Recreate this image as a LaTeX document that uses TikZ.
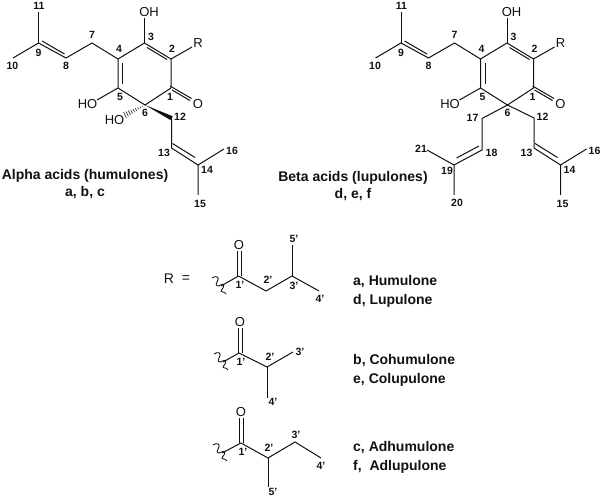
\documentclass[tikz,border=0pt]{standalone}
\usepackage{fontspec}
\setmainfont{Liberation Sans}
\usetikzlibrary{calc}
\definecolor{ink}{HTML}{111111}
\tikzset{
  bond/.style={draw=ink, line width=1pt},
  atomlabel/.style={inner sep=0pt, text=ink, font=\fontsize{13}{15}\selectfont},
  numlabel/.style={inner sep=0pt, text=ink, font=\fontsize{10.5}{12}\selectfont\bfseries},
  heading/.style={inner sep=0pt, text=ink, align=center, font=\fontsize{14}{17}\selectfont\bfseries},
  rowlabel/.style={inner sep=0pt, anchor=west, text=ink, font=\fontsize{14}{17}\selectfont\bfseries},
}
% ring and first prenyl, same in both acids
\newcommand{\acidcore}{%
  \coordinate (c1) at (171,88);
  \coordinate (c2) at (171,59);
  \coordinate (c3) at (144.5,43);
  \coordinate (c4) at (118,59);
  \coordinate (c5) at (118,88);
  \coordinate (c6) at (145,105);
  \coordinate (c7) at (92,43);
  \coordinate (c8) at (66,58);
  \coordinate (c9) at (38.5,43);
  \coordinate (c10) at (13,58);
  \coordinate (c11) at (38.5,12);
  \coordinate (oh3) at (144.5,18);
  \coordinate (oh5) at (97,100);
  \coordinate (rbond) at (192,47);
  \coordinate (c12) at (171.5,118);
  \coordinate (c13) at (171.5,148);
  \coordinate (c14) at (198,165);
  \coordinate (c15) at (198,195);
  \coordinate (c16) at (224,149);
  % ring
  \draw[bond] (c1) -- (c2) -- (c3) -- (c4) -- (c5) -- (c6) -- (c1);
  \draw[bond] (147,47.5) -- (167,59.5);
  \draw[bond] (122.5,63) -- (122.5,84.5);
  \draw[bond] (170,86) -- (191.5,98.5);
  \draw[bond] (172,90) -- (190,100.5);
  % prenyl on 4
  \draw[bond] (c4) -- (c7) -- (c8) -- (c9) -- (c10);
  \draw[bond] (c9) -- (c11);
  \draw[bond] (42,41) -- (64.5,54);
  % substituents
  \draw[bond] (c3) -- (oh3);
  \draw[bond] (c5) -- (oh5);
  \draw[bond] (c2) -- (rbond);
  % prenyl on 6
  \draw[bond] (c12) -- (c13) -- (c14) -- (c15);
  \draw[bond] (c14) -- (c16);
  \draw[bond] (172.5,143.5) -- (195,157.5);
  % atoms
  \node[atomlabel] (oh3l) at (149,12) {OH};
  \node[atomlabel] (rl) at (198,43) {R};
  \node[atomlabel] (ol) at (198,104) {O};
  \node[atomlabel] (oh5l) at (87.5,104) {HO};
  % numbers
  \foreach \lab/\px/\py in {1/170/97,2/172/49,3/151/37,4/119/49,5/120/97,6/145/113,
      7/92/35,8/66/66,9/38.5/53,10/12.5/66,11/39/6,13/164/153,14/207/170,15/200/204,16/232/151}
    \node[numlabel] (n\lab) at (\px,\py) {\lab};
}
% wavy cut mark, starts at top left
\newcommand{\wavytail}[1]{%
  \draw[ink, line width=.85pt, shift={#1}] (0,0) .. controls (4,-3) and (8.5,-1) .. (5,4)
     .. controls (2.5,8) and (6,9) .. (8.5,7) .. controls (13,4.5) and (12.5,9) .. (9.5,12)
     .. controls (7.5,15) and (12,12.5) .. (14,16);
}
\begin{document}
\begin{tikzpicture}[x=1pt,y=-1pt]
  \useasboundingbox (0,0) rectangle (600,497);

  % alpha acid
  \begin{scope}[name prefix=a-]
    \acidcore
    \fill[ink] (c6) -- (172.8,116.3) -- (170.4,120) -- cycle;
    \coordinate (hashend) at (125,115);
    \foreach \f in {.12,.23,...,1}
      \draw[ink, line width=.6pt] ($(c6)!\f!(hashend)+(-1.4*\f,-2.8*\f)$) -- ($(c6)!\f!(hashend)+(1.4*\f,2.8*\f)$);
    \node[atomlabel] (oh6l) at (114.5,120) {HO};
    \node[numlabel] (n12) at (180,117) {12};
  \end{scope}
  \node[heading] (alphatitle) at (85,176) {Alpha acids (humulones)};
  \node[heading] (alphaletters) at (85,192.5) {a, b, c};

  % beta acid
  \begin{scope}[name prefix=b-, xshift=362.5pt]
    \acidcore
    \coordinate (c17) at (119.5,118.5);
    \coordinate (c18) at (119.5,150);
    \coordinate (c19) at (91.5,165);
    \coordinate (c20) at (91.5,195);
    \coordinate (c21) at (64.5,150);
    \draw[bond] (c6) -- (c12);
    \draw[bond] (c6) -- (c17) -- (c18) -- (c19) -- (c20);
    \draw[bond] (c19) -- (c21);
    \draw[bond] (116.5,146) -- (94,158);
    \foreach \lab/\px/\py in {12/180/117,17/110/118,18/129/153,19/84.5/171,20/94.5/203,21/58.5/149}
      \node[numlabel] (n\lab) at (\px,\py) {\lab};
  \end{scope}
  \node[heading] (betatitle) at (353,178) {Beta acids (lupulones)};
  \node[heading] (betaletters) at (353,195) {d, e, f};

  % R =
  \node[atomlabel, font=\fontsize{14}{16}\selectfont] (rsym) at (169,279) {R};
  \node[atomlabel, font=\fontsize{14}{16}\selectfont] (eqsym) at (186,279) {=};

  % first side chain
  \begin{scope}[name prefix=p-]
    \coordinate (c1) at (238.5,276);
    \coordinate (c2) at (266,291);
    \coordinate (c3) at (292,276);
    \coordinate (c4) at (319,291);
    \coordinate (c5) at (292,245);
    \coordinate (tail) at (221,286);
    \node[atomlabel] (ox) at (239,245) {O};
    \draw[bond] (c1) -- (tail);
    \draw[bond] (c1) -- (c2) -- (c3) -- (c4);
    \draw[bond] (c3) -- (c5);
    \draw[bond] (237,276) -- (237,251);
    \draw[bond] (241,276) -- (241,251);
    \wavytail{(212,278)}
    \foreach \lab/\px/\py/\tx in {1/240/285/1',2/268/280/2',3/294/286/3',4/320/299/4',5/294/239/5'}
      \node[numlabel] (n\lab) at (\px,\py) {\tx};
  \end{scope}
  \node[rowlabel] (humulone) at (353,282) {a, Humulone};
  \node[rowlabel] (lupulone) at (353,301) {d, Lupulone};

  % second side chain
  \begin{scope}[name prefix=q-]
    \coordinate (c1) at (239,353);
    \coordinate (c2) at (267,367);
    \coordinate (c3) at (293,352);
    \coordinate (c4) at (267,398);
    \coordinate (tail) at (223,362);
    \node[atomlabel] (ox) at (240,322) {O};
    \draw[bond] (c1) -- (tail);
    \draw[bond] (c1) -- (c2) -- (c3);
    \draw[bond] (c2) -- (c4);
    \draw[bond] (238,353) -- (238,328);
    \draw[bond] (242,353) -- (242,328);
    \wavytail{(214,354)}
    \foreach \lab/\px/\py/\tx in {1/241/362/1',2/270/357/2',3/300/352/3',4/273/402/4'}
      \node[numlabel] (n\lab) at (\px,\py) {\tx};
  \end{scope}
  \node[rowlabel] (cohumulone) at (353,361) {b, Cohumulone};
  \node[rowlabel] (colupulone) at (353,380) {e, Colupulone};

  % third side chain
  \begin{scope}[name prefix=s-]
    \coordinate (c1) at (241,443);
    \coordinate (c2) at (268,458);
    \coordinate (c3) at (295,442);
    \coordinate (c4) at (321,458);
    \coordinate (c5) at (268,487);
    \coordinate (tail) at (222,453);
    \node[atomlabel] (ox) at (241,412) {O};
    \draw[bond] (c1) -- (tail);
    \draw[bond] (c1) -- (c2) -- (c3) -- (c4);
    \draw[bond] (c2) -- (c5);
    \draw[bond] (239.5,443) -- (239.5,418);
    \draw[bond] (243.5,443) -- (243.5,418);
    \wavytail{(213,445)}
    \foreach \lab/\px/\py/\tx in {1/243/452/1',2/269/448/2',3/296/435/3',4/321/466/4',5/273/491.5/5'}
      \node[numlabel] (n\lab) at (\px,\py) {\tx};
  \end{scope}
  \node[rowlabel] (adhumulone) at (353,448) {c, Adhumulone};
  \node[rowlabel] (adlupulone) at (353,467) {f,\ \ Adlupulone};
\end{tikzpicture}
\end{document}
